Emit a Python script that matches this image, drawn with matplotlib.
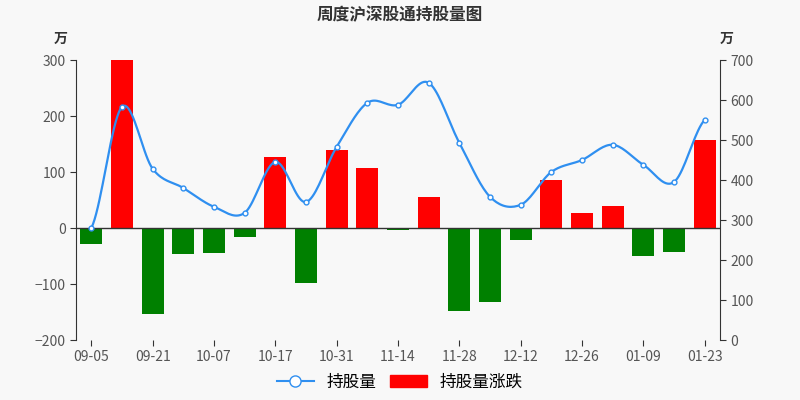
import matplotlib.pyplot as plt
import numpy as np

plt.rcParams['font.family'] = ['Noto Sans CJK SC', 'DejaVu Sans']

dates = ["09-05", "09-12", "09-21", "09-28", "10-07", "10-14", "10-17", "10-24",
         "10-31", "11-07", "11-14", "11-21", "11-28", "12-05", "12-12", "12-19",
         "12-26", "01-02", "01-09", "01-16", "01-23"]
change = [-29, 300, -154, -47, -45, -16, 127, -98, 139, 107, -4, 55,
          -148, -133, -22, 86, 27, 39, -50, -43, 157]
holding = [280, 583, 428, 380, 333, 318, 445, 345, 483, 593, 588, 643,
           493, 358, 338, 420, 450, 488, 438, 395, 550]

bg = '#f8f8f8'
fig, ax = plt.subplots(figsize=(8, 4), dpi=100)
fig.patch.set_facecolor(bg)
ax.set_facecolor(bg)
fig.subplots_adjust(left=0.095, right=0.9, top=0.85, bottom=0.15)

x = np.arange(len(dates))
colors = ['#ff0000' if v >= 0 else '#008000' for v in change]
ax.bar(x, change, width=0.72, color=colors, zorder=2)
ax.set_ylim(-200, 300)
ax.set_yticks(range(-200, 301, 100))
ax.set_xlim(-0.5, len(dates) - 0.5)
ax.set_xticks(x[::2])
ax.set_xticklabels(dates[::2])
ax.axhline(0, color='#333333', lw=1, zorder=3)

ax2 = ax.twinx()
ax2.set_ylim(0, 700)
ax2.set_yticks(range(0, 701, 100))

# Catmull-Rom smoothing for drawing
pts = np.array(holding, dtype=float)
xs, ys = [], []
p = np.concatenate([[pts[0]], pts, [pts[-1]]])
for i in range(len(pts) - 1):
    t = np.linspace(0, 1, 20)
    p0, p1, p2, p3 = p[i], p[i + 1], p[i + 2], p[i + 3]
    y = 0.5 * (2 * p1 + (-p0 + p2) * t + (2 * p0 - 5 * p1 + 4 * p2 - p3) * t ** 2
               + (-p0 + 3 * p1 - 3 * p2 + p3) * t ** 3)
    xs.extend(i + t)
    ys.extend(y)
ax2.plot(xs, ys, color='#2f8ff0', lw=1.6, zorder=4)
ax2.plot(x, holding, 'o', ms=3.5, mfc='white', mec='#2f8ff0', mew=1, zorder=5)

for a in (ax, ax2):
    for s in a.spines.values():
        s.set_visible(False)
    a.tick_params(colors='#555555', labelsize=10, length=0)
ax.spines['left'].set_visible(True)
ax.spines['left'].set_color('#333333')
ax2.spines['right'].set_visible(True)
ax2.spines['right'].set_color('#333333')
ax.tick_params(axis='y', length=4, color='#333333')
ax2.tick_params(axis='y', length=4, color='#333333')
ax.tick_params(axis='x', length=4, color='#333333')

ax.text(-0.035, 1.06, '万', transform=ax.transAxes, fontsize=10, weight='bold', color='#333333')
ax2.text(1.0, 1.06, '万', transform=ax2.transAxes, fontsize=10, weight='bold', color='#333333')
fig.suptitle('周度沪深股通持股量图', fontsize=12, weight='bold', color='#333333', y=0.985)

from matplotlib.lines import Line2D
from matplotlib.patches import Patch
handles = [Line2D([0], [0], color='#2f8ff0', marker='o', mfc='white', ms=8, lw=1.5),
           Patch(facecolor='#ff0000', edgecolor='#ff0000')]
fig.legend(handles, ['持股量', '持股量涨跌'], loc='lower center', ncol=2, frameon=False,
           fontsize=12, bbox_to_anchor=(0.5, -0.015), handlelength=2.2, columnspacing=0.8)

fig.savefig('out.png', facecolor=bg)
